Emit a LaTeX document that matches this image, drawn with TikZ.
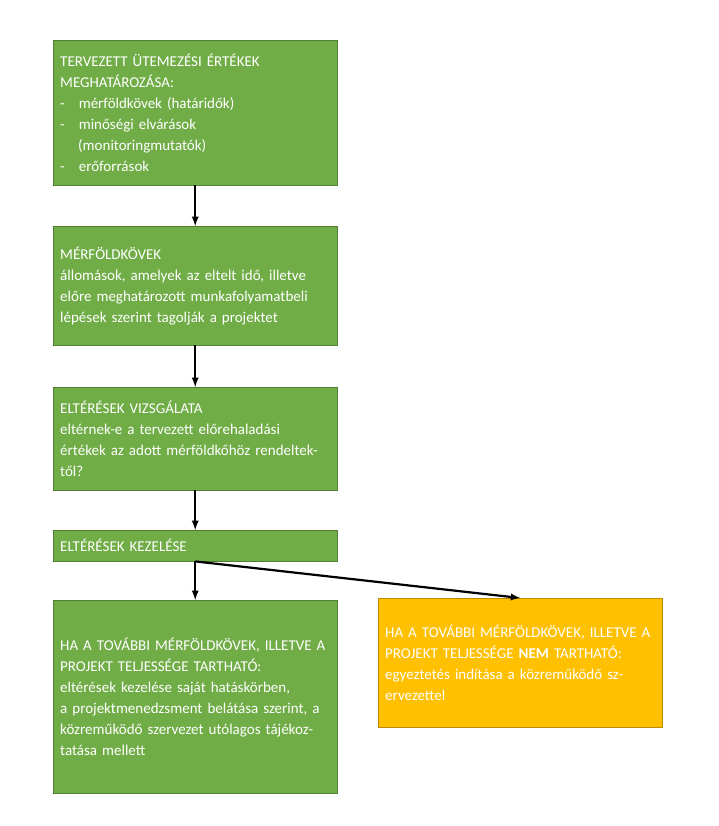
\documentclass[tikz,border=0pt]{standalone}
\usepackage{fontspec}
\setmainfont{Carlito}
\usetikzlibrary{positioning}
\definecolor{boxgreen}{HTML}{70AD47}
\definecolor{boxedge}{HTML}{507E32}
\definecolor{boxyellow}{HTML}{FFC000}
\definecolor{yedge}{HTML}{BC8C00}
\tikzset{
  stagebox/.style={rectangle, draw=boxedge, fill=boxgreen, text=white, anchor=north west,
    text width=270pt, align=left, inner sep=7pt, font=\fontsize{15pt}{21pt}\selectfont},
  warnbox/.style={stagebox, draw=yedge, fill=boxyellow},
  flow/.style={-latex, line width=2.2pt, draw=black}
}
\begin{document}
\begin{tikzpicture}[x=1pt, y=-1pt]
\useasboundingbox (0,0) rectangle (719,826);
\node [stagebox, minimum height=145pt] (plan) at (53, 40) {TERVEZETT ÜTEMEZÉSI ÉRTÉKEK MEGHATÁROZÁSA:\\
-\hspace{14pt}mérföldkövek (határidők)\\
-\hspace{14pt}minőségi elvárások\\
\hspace*{18pt}(monitoringmutatók)\\
-\hspace{14pt}erőforrások};
\node [stagebox, minimum height=119pt] (miles) at (53, 226) {MÉRFÖLDKÖVEK\\
állomások, amelyek az eltelt idő, illetve előre meghatározott munkafolyamatbeli lépések szerint tagolják a projektet};
\node [stagebox, minimum height=103pt] (check) at (53, 387) {ELTÉRÉSEK VIZSGÁLATA\\
eltérnek-e a tervezett előrehaladási értékek az adott mérföldkőhöz rendeltektől?};
\node [stagebox, minimum height=31pt] (handle) at (53, 530) {ELTÉRÉSEK KEZELÉSE};
\node [stagebox, minimum height=193pt] (keep) at (53, 600) {HA A TOVÁBBI MÉRFÖLDKÖVEK, ILLETVE A PROJEKT TELJESSÉGE TARTHATÓ:\\
eltérések kezelése saját hatáskörben,\\
a projektmenedzsment belátása szerint, a közreműködő szervezet utólagos tájékoztatása mellett};
\node [warnbox, minimum height=129pt] (fail) at (378, 598) {HA A TOVÁBBI MÉRFÖLDKÖVEK, ILLETVE A PROJEKT TELJESSÉGE \textbf{NEM} TARTHATÓ:\\
egyeztetés indítása a közreműködő szervezettel};
\draw [flow] (plan.south) -- (miles.north);
\draw [flow] (miles.south) -- (check.north);
\draw [flow] (check.south) -- (handle.north);
\draw [flow] (handle.south) -- (keep.north);
\draw [flow] (handle.south) -- (fail.north);
\end{tikzpicture}
\end{document}
